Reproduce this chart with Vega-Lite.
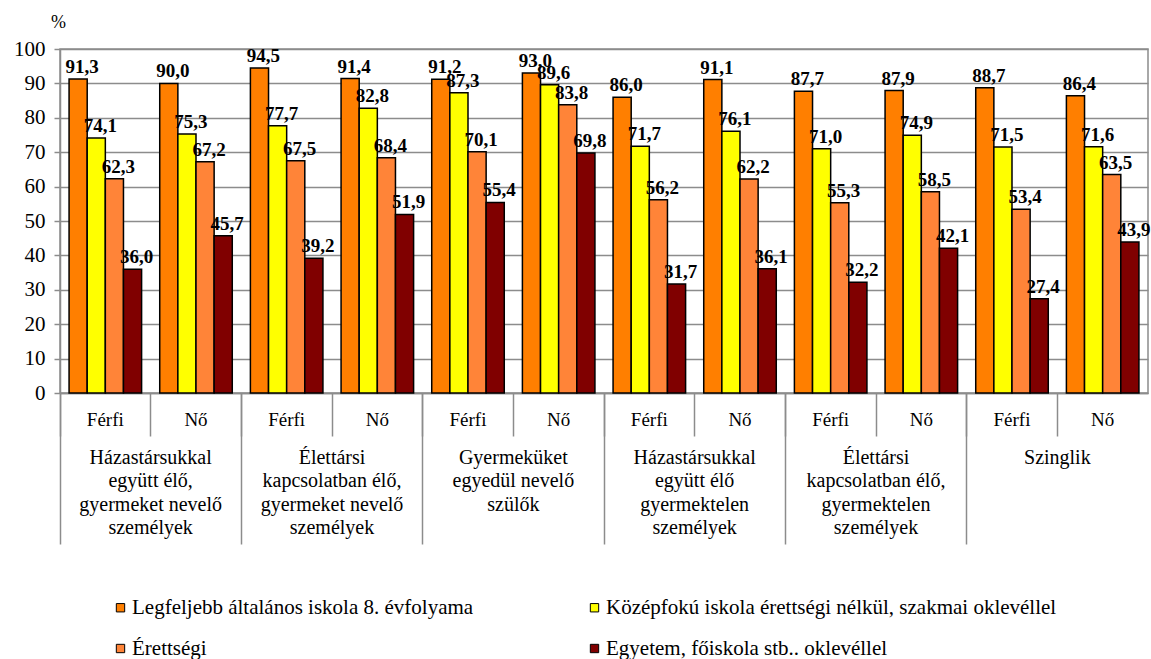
{
  "$schema": "https://vega.github.io/schema/vega-lite/v6.json",
  "width": 1088,
  "height": 344,
  "autosize": {"type": "none"},
  "padding": {"left": 60, "top": 49, "right": 3, "bottom": 266},
  "background": "white",
  "config": {
    "font": "Times New Roman",
    "axis": {"labelFont": "Times New Roman", "titleFont": "Times New Roman"},
    "legend": {"labelFont": "Times New Roman", "titleFont": "Times New Roman"},
    "text": {"font": "Times New Roman"},
    "view": {"stroke": "#8c8c8c", "strokeWidth": 1.5},
    "locale": {"number": {"decimal": ",", "thousands": " ", "grouping": [3], "currency": ["", ""]}}
  },
  "data": {"values": [
    {"cat": "Házastársukkal|együtt élő,|gyermeket nevelő|személyek", "slot": "1 Férfi", "edu": "Legfeljebb általános iskola 8. évfolyama", "value": 91.3},
    {"cat": "Házastársukkal|együtt élő,|gyermeket nevelő|személyek", "slot": "1 Férfi", "edu": "Középfokú iskola érettségi nélkül, szakmai oklevéllel", "value": 74.1},
    {"cat": "Házastársukkal|együtt élő,|gyermeket nevelő|személyek", "slot": "1 Férfi", "edu": "Érettségi", "value": 62.3},
    {"cat": "Házastársukkal|együtt élő,|gyermeket nevelő|személyek", "slot": "1 Férfi", "edu": "Egyetem, főiskola stb.. oklevéllel", "value": 36.0},
    {"cat": "Házastársukkal|együtt élő,|gyermeket nevelő|személyek", "slot": "1 Nő", "edu": "Legfeljebb általános iskola 8. évfolyama", "value": 90.0},
    {"cat": "Házastársukkal|együtt élő,|gyermeket nevelő|személyek", "slot": "1 Nő", "edu": "Középfokú iskola érettségi nélkül, szakmai oklevéllel", "value": 75.3},
    {"cat": "Házastársukkal|együtt élő,|gyermeket nevelő|személyek", "slot": "1 Nő", "edu": "Érettségi", "value": 67.2},
    {"cat": "Házastársukkal|együtt élő,|gyermeket nevelő|személyek", "slot": "1 Nő", "edu": "Egyetem, főiskola stb.. oklevéllel", "value": 45.7},
    {"cat": "Élettársi|kapcsolatban élő,|gyermeket nevelő|személyek", "slot": "2 Férfi", "edu": "Legfeljebb általános iskola 8. évfolyama", "value": 94.5},
    {"cat": "Élettársi|kapcsolatban élő,|gyermeket nevelő|személyek", "slot": "2 Férfi", "edu": "Középfokú iskola érettségi nélkül, szakmai oklevéllel", "value": 77.7},
    {"cat": "Élettársi|kapcsolatban élő,|gyermeket nevelő|személyek", "slot": "2 Férfi", "edu": "Érettségi", "value": 67.5},
    {"cat": "Élettársi|kapcsolatban élő,|gyermeket nevelő|személyek", "slot": "2 Férfi", "edu": "Egyetem, főiskola stb.. oklevéllel", "value": 39.2},
    {"cat": "Élettársi|kapcsolatban élő,|gyermeket nevelő|személyek", "slot": "2 Nő", "edu": "Legfeljebb általános iskola 8. évfolyama", "value": 91.4},
    {"cat": "Élettársi|kapcsolatban élő,|gyermeket nevelő|személyek", "slot": "2 Nő", "edu": "Középfokú iskola érettségi nélkül, szakmai oklevéllel", "value": 82.8},
    {"cat": "Élettársi|kapcsolatban élő,|gyermeket nevelő|személyek", "slot": "2 Nő", "edu": "Érettségi", "value": 68.4},
    {"cat": "Élettársi|kapcsolatban élő,|gyermeket nevelő|személyek", "slot": "2 Nő", "edu": "Egyetem, főiskola stb.. oklevéllel", "value": 51.9},
    {"cat": "Gyermeküket|egyedül nevelő|szülők", "slot": "3 Férfi", "edu": "Legfeljebb általános iskola 8. évfolyama", "value": 91.2},
    {"cat": "Gyermeküket|egyedül nevelő|szülők", "slot": "3 Férfi", "edu": "Középfokú iskola érettségi nélkül, szakmai oklevéllel", "value": 87.3},
    {"cat": "Gyermeküket|egyedül nevelő|szülők", "slot": "3 Férfi", "edu": "Érettségi", "value": 70.1},
    {"cat": "Gyermeküket|egyedül nevelő|szülők", "slot": "3 Férfi", "edu": "Egyetem, főiskola stb.. oklevéllel", "value": 55.4},
    {"cat": "Gyermeküket|egyedül nevelő|szülők", "slot": "3 Nő", "edu": "Legfeljebb általános iskola 8. évfolyama", "value": 93.0},
    {"cat": "Gyermeküket|egyedül nevelő|szülők", "slot": "3 Nő", "edu": "Középfokú iskola érettségi nélkül, szakmai oklevéllel", "value": 89.6},
    {"cat": "Gyermeküket|egyedül nevelő|szülők", "slot": "3 Nő", "edu": "Érettségi", "value": 83.8},
    {"cat": "Gyermeküket|egyedül nevelő|szülők", "slot": "3 Nő", "edu": "Egyetem, főiskola stb.. oklevéllel", "value": 69.8},
    {"cat": "Házastársukkal|együtt élő|gyermektelen|személyek", "slot": "4 Férfi", "edu": "Legfeljebb általános iskola 8. évfolyama", "value": 86.0},
    {"cat": "Házastársukkal|együtt élő|gyermektelen|személyek", "slot": "4 Férfi", "edu": "Középfokú iskola érettségi nélkül, szakmai oklevéllel", "value": 71.7},
    {"cat": "Házastársukkal|együtt élő|gyermektelen|személyek", "slot": "4 Férfi", "edu": "Érettségi", "value": 56.2},
    {"cat": "Házastársukkal|együtt élő|gyermektelen|személyek", "slot": "4 Férfi", "edu": "Egyetem, főiskola stb.. oklevéllel", "value": 31.7},
    {"cat": "Házastársukkal|együtt élő|gyermektelen|személyek", "slot": "4 Nő", "edu": "Legfeljebb általános iskola 8. évfolyama", "value": 91.1},
    {"cat": "Házastársukkal|együtt élő|gyermektelen|személyek", "slot": "4 Nő", "edu": "Középfokú iskola érettségi nélkül, szakmai oklevéllel", "value": 76.1},
    {"cat": "Házastársukkal|együtt élő|gyermektelen|személyek", "slot": "4 Nő", "edu": "Érettségi", "value": 62.2},
    {"cat": "Házastársukkal|együtt élő|gyermektelen|személyek", "slot": "4 Nő", "edu": "Egyetem, főiskola stb.. oklevéllel", "value": 36.1},
    {"cat": "Élettársi|kapcsolatban élő,|gyermektelen|személyek", "slot": "5 Férfi", "edu": "Legfeljebb általános iskola 8. évfolyama", "value": 87.7},
    {"cat": "Élettársi|kapcsolatban élő,|gyermektelen|személyek", "slot": "5 Férfi", "edu": "Középfokú iskola érettségi nélkül, szakmai oklevéllel", "value": 71.0},
    {"cat": "Élettársi|kapcsolatban élő,|gyermektelen|személyek", "slot": "5 Férfi", "edu": "Érettségi", "value": 55.3},
    {"cat": "Élettársi|kapcsolatban élő,|gyermektelen|személyek", "slot": "5 Férfi", "edu": "Egyetem, főiskola stb.. oklevéllel", "value": 32.2},
    {"cat": "Élettársi|kapcsolatban élő,|gyermektelen|személyek", "slot": "5 Nő", "edu": "Legfeljebb általános iskola 8. évfolyama", "value": 87.9},
    {"cat": "Élettársi|kapcsolatban élő,|gyermektelen|személyek", "slot": "5 Nő", "edu": "Középfokú iskola érettségi nélkül, szakmai oklevéllel", "value": 74.9},
    {"cat": "Élettársi|kapcsolatban élő,|gyermektelen|személyek", "slot": "5 Nő", "edu": "Érettségi", "value": 58.5},
    {"cat": "Élettársi|kapcsolatban élő,|gyermektelen|személyek", "slot": "5 Nő", "edu": "Egyetem, főiskola stb.. oklevéllel", "value": 42.1},
    {"cat": "Szinglik", "slot": "6 Férfi", "edu": "Legfeljebb általános iskola 8. évfolyama", "value": 88.7},
    {"cat": "Szinglik", "slot": "6 Férfi", "edu": "Középfokú iskola érettségi nélkül, szakmai oklevéllel", "value": 71.5},
    {"cat": "Szinglik", "slot": "6 Férfi", "edu": "Érettségi", "value": 53.4},
    {"cat": "Szinglik", "slot": "6 Férfi", "edu": "Egyetem, főiskola stb.. oklevéllel", "value": 27.4},
    {"cat": "Szinglik", "slot": "6 Nő", "edu": "Legfeljebb általános iskola 8. évfolyama", "value": 86.4},
    {"cat": "Szinglik", "slot": "6 Nő", "edu": "Középfokú iskola érettségi nélkül, szakmai oklevéllel", "value": 71.6},
    {"cat": "Szinglik", "slot": "6 Nő", "edu": "Érettségi", "value": 63.5},
    {"cat": "Szinglik", "slot": "6 Nő", "edu": "Egyetem, főiskola stb.. oklevéllel", "value": 43.9}
  ]},
  "encoding": {
    "y": {
      "field": "value", "type": "quantitative",
      "scale": {"domain": [0, 100], "nice": false},
      "axis": {
        "values": [0, 10, 20, 30, 40, 50, 60, 70, 80, 90, 100],
        "labelOverlap": false,
        "title": "%", "titleAngle": 0, "titleX": -2, "titleY": -27,
        "titleAlign": "center", "titleBaseline": "middle",
        "titleFont": "Times New Roman", "titleFontWeight": "normal", "titleFontSize": 18, "titleColor": "black",
        "labelFont": "Times New Roman", "labelFontSize": 21, "labelColor": "black", "labelPadding": 9,
        "tickSize": 6, "tickColor": "#8c8c8c", "tickWidth": 1.5,
        "domainColor": "#8c8c8c", "domainWidth": 1.5,
        "gridColor": "#8c8c8c", "gridWidth": 1.5
      }
    }
  },
  "layer": [
    {
      "encoding": {
        "x": {
          "field": "slot", "type": "nominal", "sort": null,
          "scale": {"paddingInner": 0, "paddingOuter": 0},
          "axis": {
            "orient": "bottom", "title": null,
            "labelExpr": "split(datum.label, ' ')[1]",
            "labelAngle": 0, "labelFont": "Times New Roman", "labelFontSize": 19, "labelColor": "black",
            "labelBaseline": "middle", "labelPadding": -17,
            "tickSize": 43, "tickColor": "#8c8c8c", "tickWidth": 1.5, "bandPosition": 0,
            "domainColor": "#8c8c8c", "domainWidth": 1.5
          }
        },
        "xOffset": {
          "field": "edu", "type": "nominal", "sort": null,
          "scale": {"paddingInner": 0, "paddingOuter": 0.5}
        }
      },
      "layer": [
        {
          "mark": {"type": "bar", "stroke": "black", "strokeWidth": 1.5},
          "encoding": {
            "color": {
              "field": "edu", "type": "nominal",
              "scale": {
                "domain": ["Legfeljebb általános iskola 8. évfolyama", "Középfokú iskola érettségi nélkül, szakmai oklevéllel", "Érettségi", "Egyetem, főiskola stb.. oklevéllel"],
                "range": ["#ff7f00", "#ffff00", "#ff8438", "#800000"]
              },
              "legend": {
                "title": null, "orient": "none", "direction": "horizontal", "legendX": 50, "legendY": 548,
                "columns": 2, "columnPadding": 110, "rowPadding": 19,
                "symbolType": "square", "symbolSize": 70,
                "symbolStrokeColor": "black", "symbolStrokeWidth": 1,
                "labelFont": "Times New Roman", "labelFontSize": 21, "labelColor": "black", "labelLimit": 600, "labelOffset": 1
              }
            }
          }
        },
        {
          "mark": {"type": "text", "font": "Times New Roman", "fontWeight": "bold", "fontSize": 19, "baseline": "alphabetic", "dy": -6, "dx": 4, "color": "black"},
          "encoding": {
            "text": {"field": "value", "type": "quantitative", "format": ".1f"}
          }
        }
      ]
    },
    {
      "mark": {"type": "bar", "opacity": 0},
      "encoding": {
        "x": {
          "field": "cat", "type": "nominal", "sort": null,
          "scale": {"paddingInner": 0, "paddingOuter": 0},
          "axis": {
            "orient": "bottom", "title": null,
            "labelExpr": "split(datum.label, '|')",
            "labelAngle": 0, "labelFont": "Times New Roman", "labelFontSize": 20, "labelColor": "black",
            "labelBaseline": "top", "labelPadding": -97, "labelLineHeight": 23.5, "labelLimit": 300,
            "tickSize": 151, "tickColor": "#8c8c8c", "tickWidth": 1.5, "bandPosition": 0,
            "domain": false
          }
        }
      }
    }
  ],
  "resolve": {"scale": {"x": "independent"}, "axis": {"x": "independent"}}
}
